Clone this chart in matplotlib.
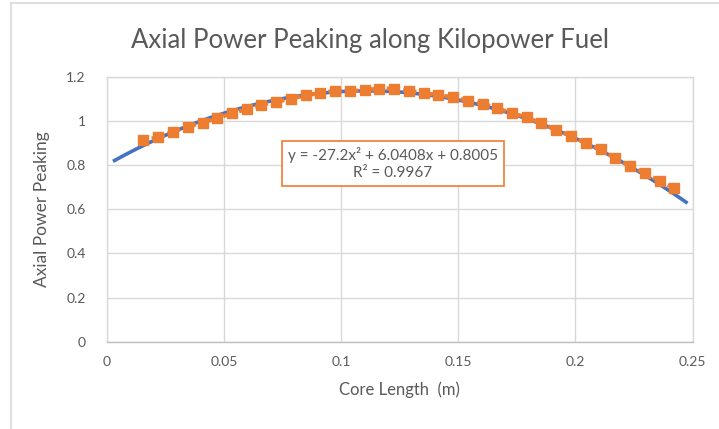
import matplotlib
matplotlib.use("Agg")
import matplotlib.pyplot as plt
import numpy as np
from matplotlib.lines import Line2D

# Core position (m) and measured axial power peaking
core_length = [0.0157, 0.0220, 0.0283, 0.0346, 0.0409, 0.0472, 0.0534, 0.0597,
               0.0660, 0.0723, 0.0786, 0.0849, 0.0912, 0.0975, 0.1038, 0.1101,
               0.1163, 0.1226, 0.1289, 0.1352, 0.1415, 0.1478, 0.1541, 0.1604,
               0.1667, 0.1730, 0.1792, 0.1855, 0.1918, 0.1981, 0.2044, 0.2107,
               0.2170, 0.2233, 0.2296, 0.2359, 0.2421]
peaking = [0.913, 0.926, 0.951, 0.974, 0.992, 1.012, 1.034, 1.053,
           1.072, 1.087, 1.100, 1.116, 1.126, 1.137, 1.134, 1.140,
           1.146, 1.146, 1.137, 1.126, 1.117, 1.107, 1.091, 1.077,
           1.057, 1.034, 1.016, 0.989, 0.959, 0.932, 0.899, 0.871,
           0.831, 0.796, 0.763, 0.729, 0.695]

# polynomial trendline as printed on the chart
trend_coef = [-27.2, 6.0408, 0.8005]
r_squared = 0.9967
trend_range = [0.0027, 0.2478]

x_ticks = [0, 0.05, 0.1, 0.15, 0.2, 0.25]
x_tick_labels = ["0", "0.05", "0.1", "0.15", "0.2", "0.25"]
y_ticks = [0, 0.2, 0.4, 0.6, 0.8, 1.0, 1.2]
y_tick_labels = ["0", "0.2", "0.4", "0.6", "0.8", "1", "1.2"]

ORANGE = "#ED7D31"
BLUE = "#4472C4"
TXT = "#595959"
GRID = "#D9D9D9"

plt.rcParams['font.family'] = ['Lato', 'DejaVu Sans']

fig = plt.figure(figsize=(7.19, 4.29), dpi=100)
ax = fig.add_axes([0.1483, 0.2035, 0.8151, 0.6177])

# trendline
xt = np.linspace(trend_range[0], trend_range[1], 200)
ax.plot(xt, np.polyval(trend_coef, xt), color=BLUE, lw=2.6, solid_capstyle='butt', zorder=3)

# data series: orange line drawn dotted over the trendline, square markers
ax.plot(core_length, peaking, color=ORANGE, lw=3, ls=(0, (1.2, 0.8)), zorder=4)
ax.plot(core_length, peaking, ls='none', marker='s', ms=7.2, color=ORANGE,
        mec=ORANGE, zorder=5)

ax.set_xlim(0, 0.25)
ax.set_ylim(0, 1.2)
ax.set_xticks(x_ticks)
ax.set_xticklabels(x_tick_labels)
ax.set_yticks(y_ticks)
ax.set_yticklabels(y_tick_labels)
ax.tick_params(length=0, colors=TXT, labelsize=10)
ax.tick_params(axis='x', pad=10)
ax.tick_params(axis='y', pad=15)
ax.grid(True, color=GRID, lw=1)
ax.set_axisbelow(True)
for s in ax.spines.values():
    s.set_color(GRID)
    s.set_linewidth(1)
ax.spines['bottom'].set_color("#BFBFBF")

ax.set_xlabel("Core Length  (m)", color=TXT, fontsize=12, labelpad=10)
ax.set_ylabel("Axial Power Peaking", color=TXT, fontsize=12.5, labelpad=12)

fig.text(0.515, 0.905, "Axial Power Peaking along Kilopower Fuel", ha='center',
         va='center', color=TXT, fontsize=18.5)

eq = "y = %.1fx\u00b2 + %.4fx + %.4f\nR\u00b2 = %.4f" % (trend_coef[0], trend_coef[1],
                                                        trend_coef[2], r_squared)
ax.text(0.1221, 0.807, eq, ha='center', va='center', color=TXT, fontsize=11,
        linespacing=1.3, zorder=6,
        bbox=dict(boxstyle='square,pad=0.4', fc='white', ec=ORANGE, lw=1.2))

# outer chart frame (left and top edges visible)
fig.add_artist(Line2D([11/719, 11/719], [0, 1 - 2.5/429], color=GRID, lw=1.2,
                      transform=fig.transFigure))
fig.add_artist(Line2D([11/719, 1], [1 - 2.5/429, 1 - 2.5/429], color=GRID, lw=1.2,
                      transform=fig.transFigure))

fig.savefig("out.png", dpi=100)
